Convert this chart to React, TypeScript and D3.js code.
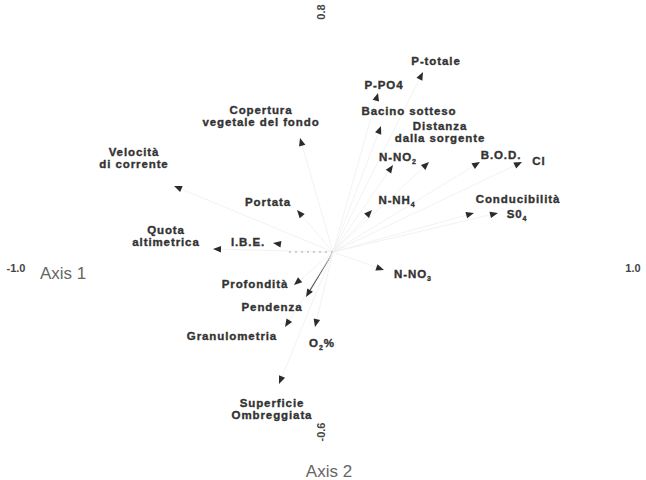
import { useMemo } from "react";
import * as d3 from "d3";

// loadings of the environmental variables on the first two axes
const variables = [
  "P-totale", "P-PO4", "Bacino sotteso", "Distanza|dalla sorgente", "N-NO_2",
  "B.O.D.", "Cl", "Copertura|vegetale del fondo", "Velocità|di corrente", "Portata",
  "Quota|altimetrica", "I.B.E.", "Profondità", "Pendenza", "Granulometria",
  "O_2%", "Superficie|Ombreggiata", "N-NH_4", "Conducibilità", "S0_4", "N-NO_3",
];
const axis1 = [
  0.30, 0.15, 0.16, 0.32, 0.20,
  0.49, 0.63, -0.11, -0.53, -0.12,
  -0.40, -0.20, -0.13, -0.09, -0.16,
  -0.06, -0.18, 0.13, 0.47, 0.55, 0.17,
];
const axis2 = [
  0.60, 0.53, 0.42, 0.30, 0.29,
  0.30, 0.30, 0.38, 0.22, 0.14,
  0.01, 0.03, -0.11, -0.15, -0.25,
  -0.25, -0.44, 0.14, 0.13, 0.13, -0.06,
];
const xTicks = [-1.0, 1.0];
const yTicks = [0.8, -0.6];

// where each label sits relative to its arrow tip (px)
const labelOffset: Record<string, [number, number]> = {
  "P-totale": [13, -11],
  "P-PO4": [6, -8],
  "Bacino sotteso": [28, -15],
  "Distanza|dalla sorgente": [11, -30],
  "N-NO_2": [5, -8],
  "B.O.D.": [21, -7],
  Cl: [17, -1],
  "Copertura|vegetale del fondo": [-39, -22],
  "Velocità|di corrente": [-40, -28],
  Portata: [-29, -8],
  "Quota|altimetrica": [-47, -13],
  "I.B.E.": [-25, -1],
  "Profondità": [-39, -1],
  Pendenza: [-34, 10],
  Granulometria: [-53, 9],
  "O_2%": [7, 16],
  "Superficie|Ombreggiata": [-7, 25],
  "N-NH_4": [25, -10],
  "Conducibilità": [44, -14],
  "S0_4": [19, 1],
  "N-NO_3": [29, 4],
};

const W = 646;
const H = 480;

function Label({ text }: { text: string }) {
  // "_" marks a subscript digit
  const parts = text.split("_");
  if (parts.length === 1) return <>{text}</>;
  const sub = parts[1].slice(0, 1);
  const rest = parts[1].slice(1);
  return (
    <>
      {parts[0]}
      <tspan fontSize={7} dy={3}>{sub}</tspan>
      {rest ? <tspan dy={-3}>{rest}</tspan> : null}
    </>
  );
}

export default function App() {
  const x = useMemo(() => d3.scaleLinear().domain([-1, 1]).range([33, 633]), []);
  const y = useMemo(() => d3.scaleLinear().domain([-0.6, 0.8]).range([432, 12]), []);
  const x0 = x(0);
  const y0 = y(0);

  const arrows = variables.map((name, i) => {
    const tx = x(axis1[i]);
    const ty = y(axis2[i]);
    const ang = Math.atan2(ty - y0, tx - x0);
    const len = 8;
    const half = 3.3;
    const bx = tx - Math.cos(ang) * len;
    const by = ty - Math.sin(ang) * len;
    const p = d3.path();
    p.moveTo(tx, ty);
    p.lineTo(bx + Math.sin(ang) * half, by - Math.cos(ang) * half);
    p.lineTo(bx - Math.sin(ang) * half, by + Math.cos(ang) * half);
    p.closePath();
    const [dx, dy] = labelOffset[name] || [0, -10];
    return { name, tx, ty, bx, by, head: p.toString(), lx: tx + dx, ly: ty + dy };
  });

  return (
    <svg
      width={W}
      height={H}
      style={{ position: "absolute", left: 0, top: 0, background: "#fff" }}
      fontFamily="Liberation Sans, Arial, sans-serif"
    >
      {arrows.map((a) => {
        const dark = a.name === "Pendenza";
        const dotted = a.name === "I.B.E.";
        return (
          <line
            key={"l" + a.name}
            x1={x0}
            y1={y0}
            x2={dotted ? x0 - 45 : a.bx}
            y2={dotted ? y0 : a.by}
            stroke={dark ? "#555" : dotted ? "#999" : "#f1f1f1"}
            strokeWidth={dark ? 1.1 : 0.9}
            strokeDasharray={dotted ? "2,4" : undefined}
          />
        );
      })}
      {arrows.map((a) => (
        <path key={"h" + a.name} d={a.head} fill="#2b2b2b" />
      ))}
      {arrows.map((a) => {
        const lines = a.name.split("|");
        const top = a.ly - ((lines.length - 1) * 12) / 2;
        return (
          <text
            key={"t" + a.name}
            textAnchor="middle"
            fontSize={11.5}
            fontWeight="bold"
            letterSpacing={0.9}
            fill="#333"
            stroke="#333"
            strokeWidth={0.35}
          >
            {lines.map((ln, k) => (
              <tspan key={k} x={a.lx} y={top + k * 12 + 4}>
                <Label text={ln} />
              </tspan>
            ))}
          </text>
        );
      })}
      {xTicks.map((v) => (
        <text
          key={"xt" + v}
          x={v < 0 ? x(v) - 17 : x(v)}
          y={y0 + 20}
          textAnchor="middle"
          fontSize={11}
          fontWeight="bold"
          fill="#444"
        >
          {v.toFixed(1)}
        </text>
      ))}
      {yTicks.map((v) => (
        <text
          key={"yt" + v}
          transform={`translate(${x0 - 12},${y(v)}) rotate(-90)`}
          textAnchor="middle"
          dy={4}
          fontSize={11}
          fontWeight="bold"
          fill="#444"
        >
          {v.toFixed(1)}
        </text>
      ))}
      <text x={40} y={y0 + 27} fontSize={17} fill="#666">
        Axis 1
      </text>
      <text x={329} y={477} fontSize={17} fill="#666" textAnchor="middle">
        Axis 2
      </text>
    </svg>
  );
}
